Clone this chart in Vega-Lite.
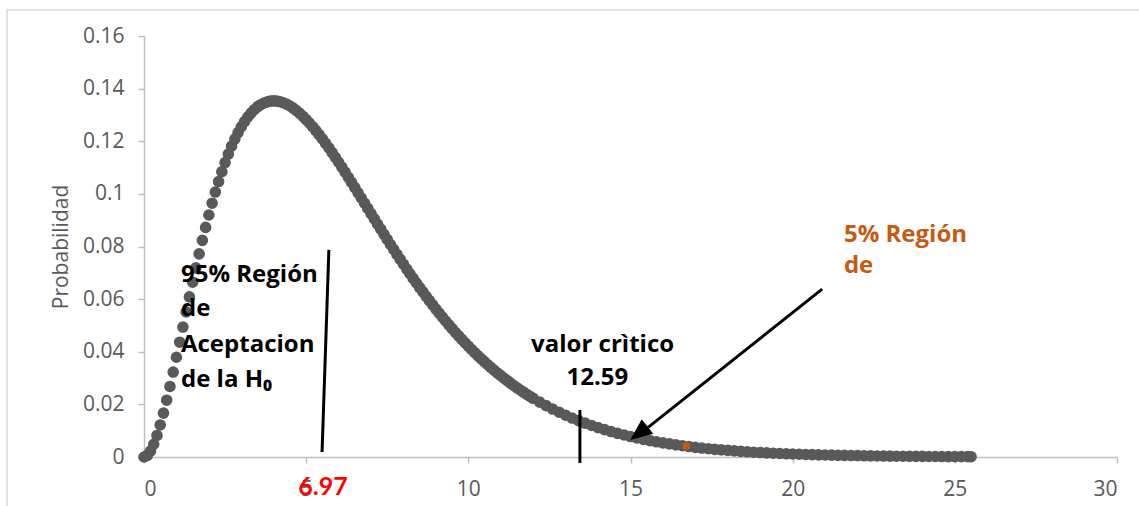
{
  "$schema": "https://vega.github.io/schema/vega-lite/v6.json",
  "width": 973,
  "height": 421,
  "autosize": {"type": "none"},
  "padding": {"left": 144, "top": 36, "right": 22, "bottom": 49},
  "background": "#ffffff",
  "config": {"view": {"stroke": null}, "font": "Open Sans"},
  "datasets": {
    "curve": [
      {"x": 0, "y": 0}, {"x": 0.1, "y": 0.000595}, {"x": 0.2, "y": 0.002262}, {"x": 0.3, "y": 0.004842}, {"x": 0.4, "y": 0.008187},
      {"x": 0.5, "y": 0.012169}, {"x": 0.6, "y": 0.016668}, {"x": 0.7, "y": 0.021581}, {"x": 0.8, "y": 0.026813}, {"x": 0.9, "y": 0.03228},
      {"x": 1.0, "y": 0.037908}, {"x": 1.1, "y": 0.043632}, {"x": 1.2, "y": 0.049393}, {"x": 1.3, "y": 0.055141}, {"x": 1.4, "y": 0.060832},
      {"x": 1.5, "y": 0.066427}, {"x": 1.6, "y": 0.071893}, {"x": 1.7, "y": 0.077202}, {"x": 1.8, "y": 0.08233}, {"x": 1.9, "y": 0.087259},
      {"x": 2.0, "y": 0.09197}, {"x": 2.1, "y": 0.096452}, {"x": 2.2, "y": 0.100693}, {"x": 2.3, "y": 0.104688}, {"x": 2.4, "y": 0.10843},
      {"x": 2.5, "y": 0.111916}, {"x": 2.6, "y": 0.115145}, {"x": 2.7, "y": 0.118115}, {"x": 2.8, "y": 0.120833}, {"x": 2.9, "y": 0.123296},
      {"x": 3.0, "y": 0.125511}, {"x": 3.1, "y": 0.127481}, {"x": 3.2, "y": 0.129214}, {"x": 3.3, "y": 0.130714}, {"x": 3.4, "y": 0.131989},
      {"x": 3.5, "y": 0.133046}, {"x": 3.6, "y": 0.133892}, {"x": 3.7, "y": 0.134536}, {"x": 3.8, "y": 0.134986}, {"x": 3.9, "y": 0.135249},
      {"x": 4.0, "y": 0.135335}, {"x": 4.1, "y": 0.135252}, {"x": 4.2, "y": 0.135008}, {"x": 4.3, "y": 0.134612}, {"x": 4.4, "y": 0.134072},
      {"x": 4.5, "y": 0.133396}, {"x": 4.6, "y": 0.132593}, {"x": 4.7, "y": 0.131669}, {"x": 4.8, "y": 0.130634}, {"x": 4.9, "y": 0.129495},
      {"x": 5.0, "y": 0.128258}, {"x": 5.1, "y": 0.126932}, {"x": 5.2, "y": 0.125523}, {"x": 5.3, "y": 0.124037}, {"x": 5.4, "y": 0.122483},
      {"x": 5.5, "y": 0.120864}, {"x": 5.6, "y": 0.119188}, {"x": 5.7, "y": 0.117459}, {"x": 5.8, "y": 0.115686}, {"x": 5.9, "y": 0.113872},
      {"x": 6.0, "y": 0.112021}, {"x": 6.1, "y": 0.110139}, {"x": 6.2, "y": 0.10823}, {"x": 6.3, "y": 0.1063}, {"x": 6.4, "y": 0.104351},
      {"x": 6.5, "y": 0.102388}, {"x": 6.6, "y": 0.100414}, {"x": 6.7, "y": 0.098432}, {"x": 6.8, "y": 0.096448}, {"x": 6.9, "y": 0.094464},
      {"x": 7.0, "y": 0.092478}, {"x": 7.1, "y": 0.090502}, {"x": 7.2, "y": 0.08853}, {"x": 7.3, "y": 0.086566}, {"x": 7.4, "y": 0.084618},
      {"x": 7.5, "y": 0.08268}, {"x": 7.6, "y": 0.080759}, {"x": 7.7, "y": 0.078856}, {"x": 7.8, "y": 0.07697}, {"x": 7.9, "y": 0.075107},
      {"x": 8.0, "y": 0.073264}, {"x": 8.1, "y": 0.071441}, {"x": 8.2, "y": 0.069648}, {"x": 8.3, "y": 0.067874}, {"x": 8.4, "y": 0.066132},
      {"x": 8.5, "y": 0.064411}, {"x": 8.6, "y": 0.062723}, {"x": 8.7, "y": 0.061058}, {"x": 8.8, "y": 0.059421}, {"x": 8.9, "y": 0.057818},
      {"x": 9.0, "y": 0.056239}, {"x": 9.1, "y": 0.054691}, {"x": 9.2, "y": 0.053175}, {"x": 9.3, "y": 0.051687}, {"x": 9.4, "y": 0.050229},
      {"x": 9.5, "y": 0.048801}, {"x": 9.6, "y": 0.047403}, {"x": 9.7, "y": 0.046036}, {"x": 9.8, "y": 0.044698}, {"x": 9.9, "y": 0.04339},
      {"x": 10.0, "y": 0.042112}, {"x": 10.1, "y": 0.040863}, {"x": 10.2, "y": 0.039644}, {"x": 10.3, "y": 0.038454}, {"x": 10.4, "y": 0.037292},
      {"x": 10.5, "y": 0.036159}, {"x": 10.6, "y": 0.035054}, {"x": 10.7, "y": 0.033976}, {"x": 10.8, "y": 0.032926}, {"x": 10.9, "y": 0.031902},
      {"x": 11.0, "y": 0.030906}, {"x": 11.1, "y": 0.029936}, {"x": 11.2, "y": 0.028992}, {"x": 11.3, "y": 0.028072}, {"x": 11.4, "y": 0.027178},
      {"x": 11.5, "y": 0.026308}, {"x": 11.6, "y": 0.025462}, {"x": 11.7, "y": 0.024639}, {"x": 11.8, "y": 0.02384}, {"x": 11.9, "y": 0.023063},
      {"x": 12.0, "y": 0.022309}, {"x": 12.2, "y": 0.020865}, {"x": 12.4, "y": 0.019503}, {"x": 12.6, "y": 0.018221}, {"x": 12.8, "y": 0.017015},
      {"x": 13.0, "y": 0.01588}, {"x": 13.2, "y": 0.014815}, {"x": 13.4, "y": 0.013814}, {"x": 13.6, "y": 0.012875}, {"x": 13.8, "y": 0.011995},
      {"x": 14.0, "y": 0.011171}, {"x": 14.2, "y": 0.010398}, {"x": 14.4, "y": 0.009676}, {"x": 14.6, "y": 0.009}, {"x": 14.8, "y": 0.008368},
      {"x": 15.0, "y": 0.007778}, {"x": 15.2, "y": 0.007226}, {"x": 15.4, "y": 0.006712}, {"x": 15.6, "y": 0.006232}, {"x": 15.8, "y": 0.005784},
      {"x": 16.0, "y": 0.005367}, {"x": 16.2, "y": 0.004979}, {"x": 16.4, "y": 0.004617}, {"x": 16.6, "y": 0.00428}, {"x": 16.8, "y": 0.003967},
      {"x": 17.0, "y": 0.003675}, {"x": 17.2, "y": 0.003404}, {"x": 17.4, "y": 0.003152}, {"x": 17.6, "y": 0.002918}, {"x": 17.8, "y": 0.002701},
      {"x": 18.0, "y": 0.002499}, {"x": 18.2, "y": 0.002312}, {"x": 18.4, "y": 0.002138}, {"x": 18.6, "y": 0.001977}, {"x": 18.8, "y": 0.001827},
      {"x": 19.0, "y": 0.001689}, {"x": 19.2, "y": 0.00156}, {"x": 19.4, "y": 0.001442}, {"x": 19.6, "y": 0.001331}, {"x": 19.8, "y": 0.001229},
      {"x": 20.0, "y": 0.001135}, {"x": 20.2, "y": 0.001047}, {"x": 20.4, "y": 0.000967}, {"x": 20.6, "y": 0.000894}, {"x": 20.8, "y": 0.000823},
      {"x": 21.0, "y": 0.000759}, {"x": 21.2, "y": 0.0007}, {"x": 21.4, "y": 0.000644}, {"x": 21.6, "y": 0.000595}, {"x": 21.8, "y": 0.000548},
      {"x": 22.0, "y": 0.000505}, {"x": 22.2, "y": 0.000464}, {"x": 22.4, "y": 0.000429}, {"x": 22.6, "y": 0.000394}, {"x": 22.8, "y": 0.000364},
      {"x": 23.0, "y": 0.000335}, {"x": 23.2, "y": 0.000308}, {"x": 23.4, "y": 0.000284}, {"x": 23.6, "y": 0.000261}, {"x": 23.8, "y": 0.00024},
      {"x": 24.0, "y": 0.000221}, {"x": 24.2, "y": 0.000203}, {"x": 24.4, "y": 0.000187}, {"x": 24.6, "y": 0.000172}, {"x": 24.8, "y": 0.000158},
      {"x": 25.0, "y": 0.000146}, {"x": 25.2, "y": 0.000134}, {"x": 25.4, "y": 0.000123}, {"x": 25.5, "y": 0.000118}
    ],
    "frame": [{"x": -4.22, "x2": 32, "y": 0.1699, "y2": -0.03}],
    "lines": [
      {"x": 5.70, "x2": 5.49, "y": 0.0787, "y2": 0.0019},
      {"x": 13.44, "x2": 13.44, "y": 0.01786, "y2": -0.00228},
      {"x": 20.91, "x2": 15.3, "y": 0.0638, "y2": 0.0089}
    ],
    "arrowhead": [{"x": 14.99, "y": 0.00646}],
    "orange": [{"x": 16.72, "y": 0.0041}],
    "blackLeft": [
      {"x": 1.14, "y": 0.06662, "t": "95% Región"},
      {"x": 1.14, "y": 0.05359, "t": "de"},
      {"x": 1.14, "y": 0.04002, "t": "Aceptacion"},
      {"x": 1.14, "y": 0.02672, "t": "de la  H₀"}
    ],
    "blackCenter": [
      {"x": 14.14, "y": 0.04002, "t": "valor crìtico"},
      {"x": 13.98, "y": 0.02736, "t": "12.59"}
    ],
    "orangeText": [
      {"x": 21.58, "y": 0.08182, "t": "5% Región"},
      {"x": 21.58, "y": 0.07004, "t": "de"}
    ],
    "redText": [{"x": 5.52, "y": -0.01444, "t": "6.97"}]
  },
  "encoding": {
    "x": {
      "field": "x", "type": "quantitative",
      "scale": {"domain": [0, 30], "nice": false, "zero": false},
      "axis": {
        "values": [0, 5, 10, 15, 20, 25, 30], "grid": false, "title": null,
        "domainColor": "#BFBFBF", "domainWidth": 1.5, "tickColor": "#BFBFBF", "tickSize": 6, "tickWidth": 1.5,
        "labelColor": "#595959", "labelFontSize": 21, "labelFont": "Open Sans", "labelPadding": 15
      }
    },
    "y": {
      "field": "y", "type": "quantitative",
      "scale": {"domain": [0, 0.16], "nice": false, "zero": false},
      "axis": {
        "values": [0, 0.02, 0.04, 0.06, 0.08, 0.1, 0.12, 0.14, 0.16], "format": "~f", "grid": false,
        "title": "Probabilidad", "titleColor": "#595959", "titleFontSize": 21, "titleFontWeight": "normal", "titleFont": "Open Sans", "titlePadding": 11,
        "domainColor": "#BFBFBF", "domainWidth": 1.5, "tickColor": "#BFBFBF", "tickSize": 6, "tickWidth": 1.5,
        "labelColor": "#595959", "labelFontSize": 21, "labelFont": "Open Sans", "labelPadding": 14
      }
    }
  },
  "layer": [
    {
      "data": {"name": "frame"},
      "mark": {"type": "rect", "fill": null, "fillOpacity": 0, "stroke": "#D9D9D9", "strokeWidth": 1.5},
      "encoding": {"x2": {"field": "x2"}, "y2": {"field": "y2"}}
    },
    {
      "data": {"name": "curve"},
      "mark": {"type": "circle", "size": 135, "color": "#595959", "opacity": 1}
    },
    {
      "data": {"name": "orange"},
      "mark": {"type": "circle", "size": 60, "color": "#C55A11", "opacity": 1}
    },
    {
      "data": {"name": "lines"},
      "mark": {"type": "rule", "color": "#000000", "strokeWidth": 3},
      "encoding": {"x2": {"field": "x2"}, "y2": {"field": "y2"}}
    },
    {
      "data": {"name": "arrowhead"},
      "mark": {"type": "point", "shape": "M0,0L-0.42,1L0.42,1Z", "size": 1936, "angle": 231.8, "filled": true, "color": "#000000", "opacity": 1, "strokeWidth": 0}
    },
    {
      "data": {"name": "blackLeft"},
      "mark": {"type": "text", "align": "left", "baseline": "alphabetic", "font": "Open Sans", "fontWeight": "bold", "fontSize": 24, "color": "#000000"},
      "encoding": {"text": {"field": "t", "type": "nominal"}}
    },
    {
      "data": {"name": "blackCenter"},
      "mark": {"type": "text", "align": "center", "baseline": "alphabetic", "font": "Open Sans", "fontWeight": "bold", "fontSize": 24, "color": "#000000"},
      "encoding": {"text": {"field": "t", "type": "nominal"}}
    },
    {
      "data": {"name": "orangeText"},
      "mark": {"type": "text", "align": "left", "baseline": "alphabetic", "font": "Open Sans", "fontWeight": "bold", "fontSize": 24, "color": "#C55A11"},
      "encoding": {"text": {"field": "t", "type": "nominal"}}
    },
    {
      "data": {"name": "redText"},
      "mark": {"type": "text", "align": "center", "baseline": "alphabetic", "font": "Lato", "fontWeight": "bold", "fontSize": 25, "color": "#FF0000"},
      "encoding": {"text": {"field": "t", "type": "nominal"}}
    }
  ]
}
